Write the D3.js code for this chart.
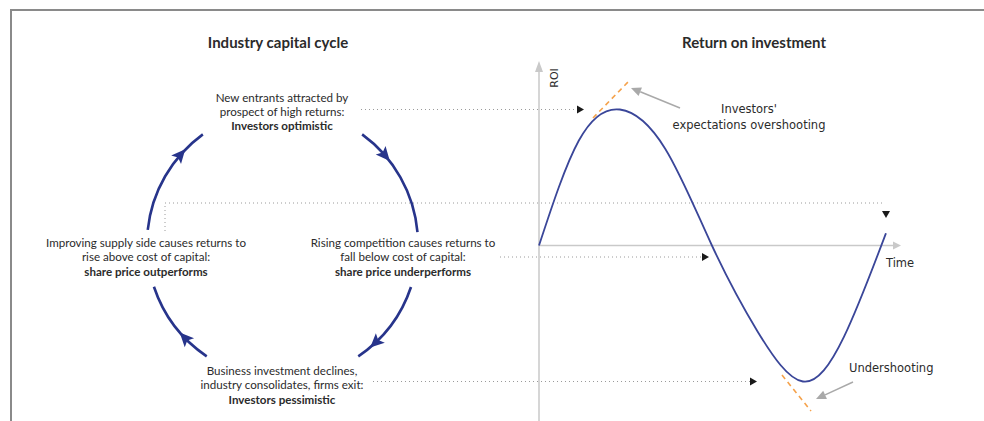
<!DOCTYPE html>
<html><head><meta charset="utf-8">
<script src="https://cdn.jsdelivr.net/npm/d3@7"></script>
<style>body{margin:0;background:#fff}svg{display:block}</style>
</head><body><svg id="c" width="984" height="421"></svg>
<script>
// ---- data ----
const titles = ["Industry capital cycle", "Return on investment"];
const stageRegular = [
  ["New entrants attracted by", "prospect of high returns:"],
  ["Rising competition causes returns to", "fall below cost of capital:"],
  ["Business investment declines,", "industry consolidates, firms exit:"],
  ["Improving supply side causes returns to", "rise above cost of capital:"]
];
const stageBold = ["Investors optimistic", "share price underperforms", "Investors pessimistic", "share price outperforms"];
// cycle arcs (degrees clockwise from 12 o'clock): start, end, arrow position
const arcStart = [36, 108.5, 214, -84];
const arcEnd   = [85, 146, 251.6, -36];
const arcArrow = [49, 136.5, 226, -49];
// ROI curve
const timeVals = [0, 11, 22.4, 35, 47.9, 60.5, 73.1, 84.5, 96.1];
const roiVals  = [0, 0.77, 1.0, 0.71, 0, -0.63, -1.0, -0.67, 0.09];
const axisLabels = ["ROI", "Time"];
const notes = [["Investors'", "expectations overshooting"], ["Undershooting"]];

// ---- drawing ----
const svg = d3.select("#c");
const blue = "#27348b", curveBlue = "#3a4699", txt = "#2b2b2b";
const fontL = "Lato, 'Open Sans', sans-serif", fontR = "'DejaVu Sans', Verdana, sans-serif";

// frame
svg.append("path").attr("d", "M11,421 L11,10 L984,10").attr("fill", "none")
  .attr("stroke", "#8a8a8a").attr("stroke-width", 2);

// titles
svg.selectAll("text.title").data(titles).join("text").attr("class", "title")
  .attr("x", (d, i) => i ? 754 : 278).attr("y", 48).attr("text-anchor", "middle")
  .attr("font-family", fontL).attr("font-weight", 700).attr("font-size", 15).attr("fill", txt)
  .text(d => d);

// scales for ROI chart
const x = d3.scaleLinear().domain([0, 100]).range([539, 900]);
const y = d3.scaleLinear().domain([-1, 1]).range([381.5, 109.5]);
const x0 = x(0), y0 = y(0);

// dotted connectors (drawn first, under marks)
const dotted = (d) => svg.append("path").attr("d", d).attr("fill", "none")
  .attr("stroke", "#9a9a9a").attr("stroke-width", 1).attr("stroke-dasharray", "1,3");
dotted(`M361,${y(1)} L577,${y(1)}`);
dotted(`M165,231 L165,203 L885,203`);
dotted(`M500,257 L702,257`);
dotted(`M373,${y(-1)} L750,${y(-1)}`);
const tri = (pts) => svg.append("path").attr("d", "M" + pts.map(p => p.join(",")).join("L") + "Z").attr("fill", "#1a1a1a");
tri([[577, y(1) - 4], [584, y(1)], [577, y(1) + 4]]);
tri([[702, 253], [709, 257], [702, 261]]);
tri([[750, y(-1) - 4], [757, y(-1)], [750, y(-1) + 4]]);
tri([[882, 211], [890, 211], [886, 218]]);

// axes
const axisC = "#c9c9c9";
svg.append("line").attr("x1", x0).attr("x2", x0).attr("y1", 70).attr("y2", 421).attr("stroke", axisC).attr("stroke-width", 1.5);
svg.append("path").attr("d", `M${x0 - 4},72 L${x0},61 L${x0 + 4},72Z`).attr("fill", axisC);
svg.append("line").attr("x1", x0).attr("x2", 893).attr("y1", y0).attr("y2", y0).attr("stroke", axisC).attr("stroke-width", 1.5);
svg.append("path").attr("d", `M893,${y0 - 4} L901,${y0} L893,${y0 + 4}Z`).attr("fill", axisC);
svg.append("text").attr("transform", `translate(557.5,78) rotate(-90)`).attr("text-anchor", "middle")
  .attr("font-family", fontR).attr("font-size", 11).attr("fill", txt).text(axisLabels[0]);
svg.append("text").attr("x", 886).attr("y", 267).attr("font-family", fontR).attr("font-size", 11.5)
  .attr("fill", txt).text(axisLabels[1]);

// orange tangents
const orange = (d) => svg.append("path").attr("d", d).attr("fill", "none").attr("stroke", "#f5a24b")
  .attr("stroke-width", 1.6).attr("stroke-dasharray", "5,4");
orange(`M593,118 L628,82`);
orange(`M782,375 L811,411`);

// ROI curve
const pts = timeVals.map((t, i) => [x(t), y(roiVals[i])]);
svg.append("path").attr("d", d3.line().curve(d3.curveNatural)(pts))
  .attr("fill", "none").attr("stroke", curveBlue).attr("stroke-width", 1.8);

// gray annotation arrows
const grayArrow = (x1, y1, x2, y2) => {
  const a = Math.atan2(y2 - y1, x2 - x1), L = 10, w = 4.5;
  const bx = x2 - L * Math.cos(a), by = y2 - L * Math.sin(a);
  svg.append("line").attr("x1", x1).attr("y1", y1).attr("x2", bx).attr("y2", by)
    .attr("stroke", "#a9a9a9").attr("stroke-width", 1.5);
  svg.append("path").attr("d", `M${x2},${y2} L${bx - w * Math.sin(a)},${by + w * Math.cos(a)} L${bx + w * Math.sin(a)},${by - w * Math.cos(a)}Z`)
    .attr("fill", "#a9a9a9");
};
grayArrow(680, 108, 631, 88);
grayArrow(853, 382, 816, 399);

// notes
svg.selectAll("text.n1").data(notes[0]).join("text").attr("class", "n1")
  .attr("x", 749).attr("y", (d, i) => 113 + i * 16).attr("text-anchor", "middle")
  .attr("font-family", fontR).attr("font-size", 11.5).attr("fill", txt).text(d => d);
svg.append("text").attr("x", 849).attr("y", 372).attr("font-family", fontR).attr("font-size", 11.5)
  .attr("fill", txt).text(notes[1][0]);

// cycle
const cx = 282.5, cy = 244, r = 135.5;
const rad = d => d * Math.PI / 180;
arcStart.forEach((s, i) => {
  const p = d3.path();
  p.arc(cx, cy, r, rad(s - 90), rad(arcEnd[i] - 90), false);
  svg.append("path").attr("d", p.toString()).attr("fill", "none").attr("stroke", blue).attr("stroke-width", 2.6);
  const th = rad(arcArrow[i]);
  const px = cx + r * Math.sin(th), py = cy - r * Math.cos(th);
  const dx = Math.cos(th), dy = Math.sin(th), nx = Math.sin(th), ny = -Math.cos(th);
  const L = 14, w = 6.5;
  const tip = [px + dx * L * 0.55, py + dy * L * 0.55];
  const bc = [px - dx * L * 0.45, py - dy * L * 0.45];
  svg.append("path").attr("d", `M${tip} L${bc[0] + nx * w},${bc[1] + ny * w} L${bc[0] + dx * 3},${bc[1] + dy * 3} L${bc[0] - nx * w},${bc[1] - ny * w}Z`)
    .attr("fill", blue);
});

// stage labels
const stagePos = [[282, 101.5], [403, 247], [282, 375], [146, 247]];
stageRegular.forEach((lines, i) => {
  const t = svg.append("text").attr("text-anchor", "middle").attr("font-family", fontL)
    .attr("font-size", 11.6).attr("fill", txt);
  lines.forEach((l, j) => t.append("tspan").attr("x", stagePos[i][0]).attr("y", stagePos[i][1] + j * 14).text(l));
  t.append("tspan").attr("x", stagePos[i][0]).attr("y", stagePos[i][1] + 28.5).attr("font-weight", 700).text(stageBold[i]);
});
</script></body></html>
